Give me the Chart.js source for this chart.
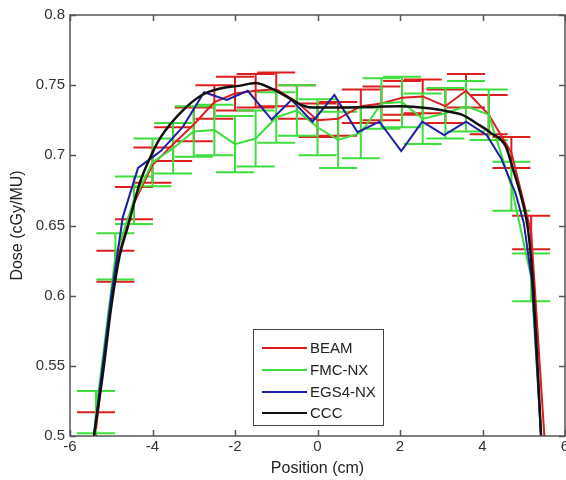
<!DOCTYPE html>
<html>
<head>
<meta charset="utf-8">
<title>Dose profile</title>
<script src="https://cdn.jsdelivr.net/npm/chart.js@4.4.1/dist/chart.umd.min.js"></script>
<style>
  html, body { margin: 0; padding: 0; background: #fff; }
  #wrap { width: 566px; height: 480px; }
</style>
</head>
<body>
<div id="wrap"><canvas id="chart" width="566" height="480"></canvas></div>
<script>
// values (position in cm, dose in cGy/MU)
const beamX    = [-5.37, -4.9, -4.45, -4.0, -3.5, -3.0, -2.5, -2.0, -1.5, -1.0, -0.5, 0.0, 0.5, 1.05, 1.55, 2.05, 2.55, 3.1, 3.6, 4.15, 4.7, 5.18, 5.5];
const beamDose = [0.505, 0.621, 0.666, 0.693, 0.708, 0.722, 0.738, 0.744, 0.746, 0.747, 0.738, 0.725, 0.726, 0.735, 0.737, 0.741, 0.742, 0.735, 0.746, 0.729, 0.702, 0.645, 0.5];
const beamErr  = [0.012, 0.011, 0.0115, 0.0125, 0.012, 0.012, 0.012, 0.012, 0.012, 0.012, 0.012, 0.012, 0.012, 0.012, 0.012, 0.012, 0.012, 0.012, 0.012, 0.014, 0.011, 0.012, null];

const fmcX    = [-5.42, -5.37, -4.9, -4.45, -4.0, -3.5, -3.0, -2.5, -2.0, -1.5, -1.0, -0.5, 0.0, 0.5, 1.05, 1.55, 2.05, 2.55, 3.1, 3.6, 4.15, 4.7, 5.18, 5.42];
const fmcDose = [0.5, 0.517, 0.628, 0.668, 0.695, 0.705, 0.717, 0.718, 0.708, 0.712, 0.727, 0.732, 0.72, 0.711, 0.716, 0.737, 0.738, 0.726, 0.73, 0.735, 0.729, 0.678, 0.613, 0.5];
const fmcErr  = [null, 0.015, 0.0165, 0.017, 0.017, 0.018, 0.018, 0.018, 0.02, 0.02, 0.018, 0.018, 0.02, 0.02, 0.018, 0.018, 0.018, 0.018, 0.018, 0.018, 0.018, 0.0175, 0.017, null];

const egsX    = [-5.42, -5.0, -4.72, -4.35, -3.8, -3.27, -2.75, -2.2, -1.69, -1.11, -0.63, -0.12, 0.41, 0.97, 1.5, 2.03, 2.54, 3.07, 3.6, 4.1, 4.45, 4.8, 5.0, 5.2, 5.3, 5.42];
const egsDose = [0.5, 0.6, 0.656, 0.691, 0.703, 0.72, 0.745, 0.7395, 0.746, 0.7255, 0.7395, 0.724, 0.743, 0.7165, 0.724, 0.703, 0.724, 0.7145, 0.724, 0.7145, 0.698, 0.673, 0.652, 0.61, 0.56, 0.5];

const cccX    = [-5.42, -5.2, -5.0, -4.8, -4.6, -4.3, -4.0, -3.8, -3.3, -2.8, -2.3, -1.9, -1.5, -1.15, -0.7, -0.4, -0.1, 0.5, 1.2, 2.0, 2.7, 3.2, 3.5, 3.9, 4.2, 4.57, 4.72, 4.96, 5.1, 5.2, 5.3, 5.42];
const cccDose = [0.5, 0.545, 0.592, 0.628, 0.649, 0.681, 0.702, 0.713, 0.731, 0.743, 0.748, 0.7495, 0.7515, 0.748, 0.741, 0.736, 0.734, 0.734, 0.7345, 0.735, 0.7335, 0.731, 0.729, 0.722, 0.716, 0.706, 0.692, 0.668, 0.648, 0.618, 0.57, 0.5];

const seriesNames = ["BEAM", "FMC-NX", "EGS4-NX", "CCC"];
const xTicks = [-6, -4, -2, 0, 2, 4, 6];
const yTicks = [0.5, 0.55, 0.6, 0.65, 0.7, 0.75, 0.8];

const RED = "#dc1e1e", GREEN = "#3ede3e", BLUE = "#1e1ea6", BLACK = "#111111";
const FONT = "'Liberation Sans', Arial, sans-serif";

function pts(xs, ys) {
  return xs.map((x, i) => ({ x, y: ys[i] }));
}

// error bars for BEAM and FMC-NX, drawn under the lines
const errorBars = {
  id: "errorBars",
  beforeDatasetsDraw(chart) {
    const { ctx, chartArea: a, scales: { x, y } } = chart;
    const cap = 19;
    ctx.save();
    ctx.beginPath();
    ctx.rect(a.left, a.top, a.right - a.left, a.bottom - a.top);
    ctx.clip();
    ctx.lineWidth = 2;
    [[beamX, beamDose, beamErr, RED], [fmcX, fmcDose, fmcErr, GREEN]].forEach(([xs, ys, es, col]) => {
      ctx.strokeStyle = col;
      xs.forEach((xv, i) => {
        if (es[i] == null) return;
        const px = x.getPixelForValue(xv);
        const t = y.getPixelForValue(ys[i] + es[i]);
        const b = y.getPixelForValue(ys[i] - es[i]);
        ctx.beginPath();
        ctx.moveTo(px, t); ctx.lineTo(px, b);
        ctx.moveTo(px - cap, t); ctx.lineTo(px + cap, t);
        ctx.moveTo(px - cap, b); ctx.lineTo(px + cap, b);
        ctx.stroke();
      });
    });
    ctx.restore();
  }
};

// matlab style box, inner ticks and legend
const frame = {
  id: "frame",
  afterDraw(chart) {
    const { ctx, chartArea: a, scales: { x, y } } = chart;
    ctx.save();
    ctx.strokeStyle = "#555";
    ctx.lineWidth = 1.5;
    ctx.strokeRect(a.left, a.top, a.right - a.left, a.bottom - a.top);
    ctx.beginPath();
    xTicks.forEach(v => {
      const px = Math.round(x.getPixelForValue(v)) + 0.5;
      ctx.moveTo(px, a.bottom); ctx.lineTo(px, a.bottom - 6);
      ctx.moveTo(px, a.top); ctx.lineTo(px, a.top + 6);
    });
    yTicks.forEach(v => {
      const py = Math.round(y.getPixelForValue(v)) + 0.5;
      ctx.moveTo(a.left, py); ctx.lineTo(a.left + 6, py);
      ctx.moveTo(a.right, py); ctx.lineTo(a.right - 6, py);
    });
    ctx.stroke();

    // legend box
    const lx = 253, ly = 329, lw = 130, lh = 96;
    ctx.fillStyle = "#fff";
    ctx.fillRect(lx, ly, lw, lh);
    ctx.strokeStyle = "#444";
    ctx.lineWidth = 1;
    ctx.strokeRect(lx + 0.5, ly + 0.5, lw, lh);
    const rows = [348, 370, 392, 413];
    ctx.font = "15px " + FONT;
    ctx.textBaseline = "middle";
    ctx.textAlign = "left";
    chart.data.datasets.forEach((ds, i) => {
      ctx.strokeStyle = ds.borderColor;
      ctx.lineWidth = 2;
      ctx.beginPath();
      ctx.moveTo(262, rows[i]); ctx.lineTo(307, rows[i]);
      ctx.stroke();
      ctx.fillStyle = "#222";
      ctx.fillText(ds.label, 310, rows[i] + 1);
    });
    ctx.restore();
  }
};

new Chart(document.getElementById("chart"), {
  type: "line",
  data: {
    datasets: [
      { label: seriesNames[0], data: pts(beamX, beamDose), borderColor: RED, borderWidth: 2, order: 4 },
      { label: seriesNames[1], data: pts(fmcX, fmcDose), borderColor: GREEN, borderWidth: 2, order: 3 },
      { label: seriesNames[2], data: pts(egsX, egsDose), borderColor: BLUE, borderWidth: 2, order: 2 },
      { label: seriesNames[3], data: pts(cccX, cccDose), borderColor: BLACK, borderWidth: 2.5, order: 1,
        cubicInterpolationMode: "monotone" }
    ]
  },
  options: {
    responsive: false,
    animation: false,
    devicePixelRatio: 1,
    layout: { padding: { top: 15, right: 1, left: 4, bottom: 2 } },
    elements: { point: { radius: 0 }, line: { tension: 0, fill: false } },
    plugins: { legend: { display: false }, tooltip: { enabled: false } },
    scales: {
      x: {
        type: "linear",
        min: -6, max: 6,
        grid: { display: false, drawTicks: false },
        border: { display: false },
        afterBuildTicks: s => { s.ticks = xTicks.map(v => ({ value: v })); },
        afterFit: s => { s.height = 42; s.paddingLeft = 0; s.paddingRight = 0; },
        ticks: { autoSkip: false, maxRotation: 0, padding: 2, color: "#333",
                 font: { family: FONT, size: 15 }, callback: v => String(v) },
        title: { display: true, text: "Position (cm)", color: "#222",
                 font: { family: FONT, size: 16 }, padding: { top: 0, bottom: 0 } }
      },
      y: {
        min: 0.5, max: 0.8,
        grid: { display: false, drawTicks: false },
        border: { display: false },
        afterBuildTicks: s => { s.ticks = yTicks.map(v => ({ value: v })); },
        afterFit: s => { s.width = 66; s.paddingTop = 0; s.paddingBottom = 0; },
        ticks: { autoSkip: false, padding: 5, color: "#333",
                 font: { family: FONT, size: 15 }, callback: v => String(v) },
        title: { display: true, text: "Dose (cGy/MU)", color: "#222",
                 font: { family: FONT, size: 16 }, padding: { top: 4, bottom: 0 } }
      }
    }
  },
  plugins: [errorBars, frame]
});
</script>
</body>
</html>
